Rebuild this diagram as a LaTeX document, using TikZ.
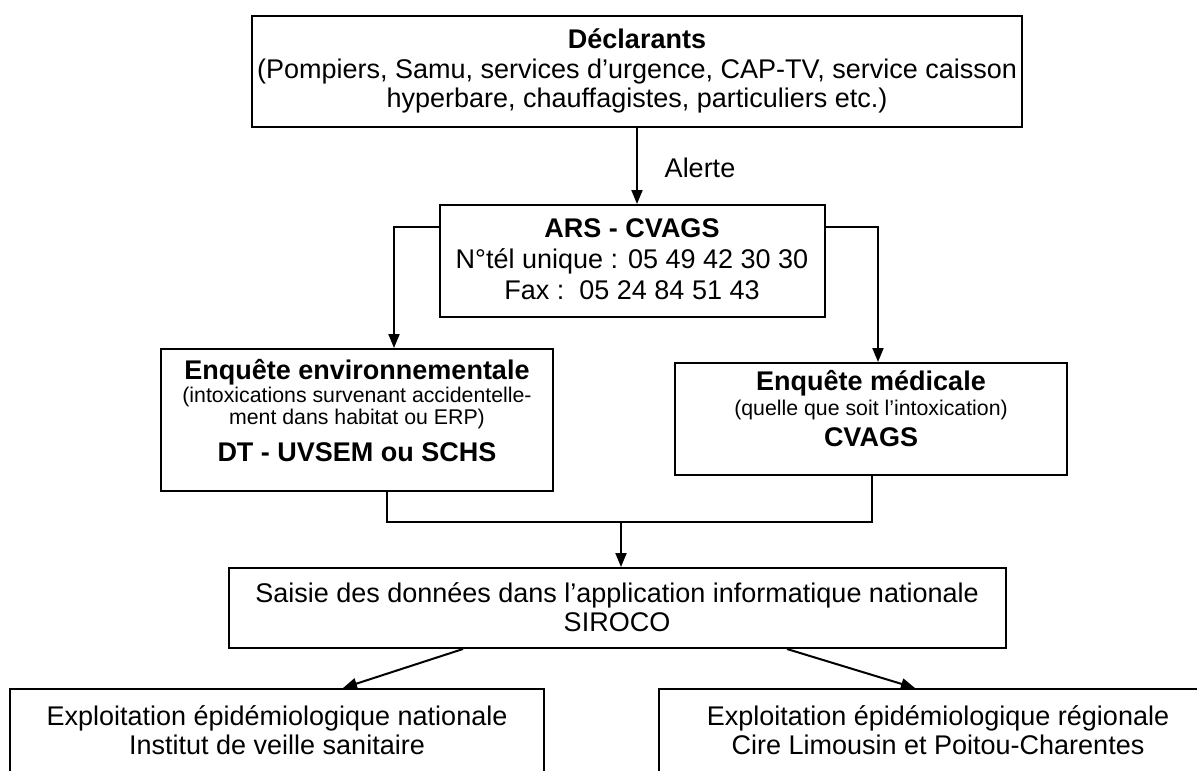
\documentclass[tikz,border=0pt]{standalone}
\usepackage{fontspec}
\setmainfont{Liberation Sans}
\usetikzlibrary{arrows.meta,calc}
\tikzset{
  box/.style={draw, line width=2pt, inner sep=0pt},
  txt/.style={font=\fontsize{27}{29.5}\selectfont, align=center, inner sep=0pt},
  smalltxt/.style={font=\fontsize{21.3}{22}\selectfont, align=center, inner sep=0pt},
  arr/.style={line width=2pt, -{Triangle[length=14pt,width=11pt]}},
  ln/.style={line width=2pt}
}
\begin{document}
\begin{tikzpicture}[x=1pt,y=-1pt]
\useasboundingbox (0,0) rectangle (1197,771);
\clip (0,0) rectangle (1197,771);
\fill[white] (0,0) rectangle (1197,771);

% boxes
\node[box, minimum width=770pt, minimum height=111pt] (decl) at (637,71.5) {};
\node[box, minimum width=385pt, minimum height=112pt] (ars) at (632.5,261) {};
\node[box, minimum width=392pt, minimum height=142pt] (env) at (357,420) {};
\node[box, minimum width=392pt, minimum height=112pt] (med) at (871,419) {};
\node[box, minimum width=777pt, minimum height=80pt] (sai) at (617.5,608) {};
\node[box, minimum width=534pt, minimum height=200pt] (nat) at (277,789) {};
\node[box, minimum width=558pt, minimum height=200pt] (reg) at (938,789) {};

% texts
\node[txt] (declt) at (637,71) {\textbf{Déclarants}\\(Pompiers, Samu, services d’urgence, CAP-TV, service caisson\\hyperbare, chauffagistes, particuliers etc.)};
\node[txt] (alerte) at (700,168) {Alerte};
\node[txt, font=\fontsize{27}{31}\selectfont] (arst) at (632,259) {\textbf{ARS - CVAGS}\\N°tél unique : 05 49 42 30 30\\Fax :\ \ 05 24 84 51 43};
\node[txt] (envA) at (357,372) {\textbf{Enquête environnementale}};
\node[smalltxt] (envB) at (357,408) {(intoxications survenant accidentelle-\\ment dans habitat ou ERP)};
\node[txt] (envC) at (357,452) {\textbf{DT - UVSEM ou SCHS}};
\node[txt] (medA) at (871,383) {\textbf{Enquête médicale}};
\node[smalltxt] (medB) at (871,410) {(quelle que soit l’intoxication)};
\node[txt] (medC) at (871,437) {\textbf{CVAGS}};
\node[txt] (sait) at (617,607) {Saisie des données dans l’application informatique nationale\\SIROCO};
\node[txt] (natt) at (277,730) {Exploitation épidémiologique nationale\\Institut de veille sanitaire};
\node[txt] (regt) at (938,730) {Exploitation épidémiologique régionale\\Cire Limousin et Poitou-Charentes};

% connectors
\draw[arr] (decl.south) -- (decl.south |- ars.north);
\draw[arr] ($(ars.north west)+(0,23)$) -| ($(env.north)+(37,0)$);
\draw[arr] ($(ars.north east)+(0,23)$) -| ($(med.north)+(7,0)$);
\coordinate (junc) at (621,522);
\draw[ln] ($(env.south)+(30,0)$) |- (junc) -| ($(med.south)+(1,0)$);
\draw[arr] (junc) -- (junc |- sai.north);
\draw[arr] ($(sai.south)+(-154.5,0)$) -- ($(nat.north)+(66,0)$);
\draw[arr] ($(sai.south)+(169.5,0)$) -- ($(reg.north)+(-23,0)$);
\end{tikzpicture}
\end{document}
